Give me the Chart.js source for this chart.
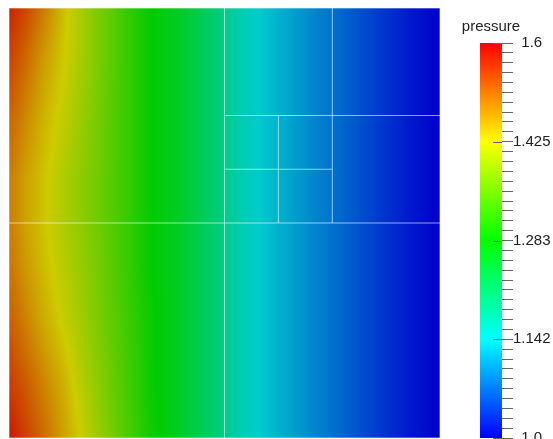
<!DOCTYPE html>
<html>
<head>
<meta charset="utf-8">
<script src="https://cdn.jsdelivr.net/npm/chart.js@4/dist/chart.umd.min.js"></script>
<style>
  html, body { margin: 0; padding: 0; background: #fff; overflow: hidden; width: 553px; height: 439px; }
  #field { position: absolute; left: 0; top: 0; }
  #legendBar { position: absolute; left: 455px; top: 0; }
</style>
</head>
<body>
<canvas id="field" width="455" height="439"></canvas>
<canvas id="legendBar" width="98" height="480"></canvas>
<script>
// Sample positions of the pressure field (unit square, y = 0 at the bottom)
const sampleX = [0, 0.04, 0.08, 0.13, 0.2, 0.27, 0.33, 0.4, 0.47, 0.54, 0.62, 0.7, 0.78, 0.86, 0.93, 1.0];
const sampleY = [0, 0.12, 0.27, 0.4, 0.5, 0.6, 0.74, 0.88, 1.0];

// Pressure along each sample row, bottom to top
const pressureY000 = [1.550, 1.521, 1.493, 1.453, 1.397, 1.340, 1.295, 1.255, 1.210, 1.159, 1.125, 1.096, 1.068, 1.040, 1.017, 1.000];
const pressureY012 = [1.527, 1.504, 1.476, 1.442, 1.385, 1.334, 1.289, 1.255, 1.210, 1.159, 1.125, 1.096, 1.068, 1.040, 1.017, 1.000];
const pressureY027 = [1.504, 1.476, 1.448, 1.419, 1.374, 1.329, 1.289, 1.255, 1.210, 1.159, 1.125, 1.096, 1.068, 1.040, 1.017, 1.000];
const pressureY040 = [1.487, 1.459, 1.436, 1.408, 1.368, 1.323, 1.283, 1.255, 1.210, 1.159, 1.125, 1.096, 1.068, 1.040, 1.017, 1.000];
const pressureY050 = [1.482, 1.453, 1.431, 1.402, 1.363, 1.323, 1.283, 1.255, 1.210, 1.159, 1.125, 1.096, 1.068, 1.040, 1.017, 1.000];
const pressureY060 = [1.482, 1.453, 1.431, 1.402, 1.363, 1.323, 1.283, 1.255, 1.210, 1.159, 1.125, 1.096, 1.068, 1.040, 1.017, 1.000];
const pressureY074 = [1.499, 1.470, 1.442, 1.414, 1.368, 1.323, 1.283, 1.255, 1.210, 1.159, 1.125, 1.096, 1.068, 1.040, 1.017, 1.000];
const pressureY088 = [1.521, 1.493, 1.459, 1.425, 1.374, 1.323, 1.283, 1.255, 1.210, 1.159, 1.125, 1.096, 1.068, 1.040, 1.017, 1.000];
const pressureY100 = [1.544, 1.516, 1.482, 1.431, 1.374, 1.323, 1.283, 1.255, 1.210, 1.159, 1.125, 1.096, 1.068, 1.040, 1.017, 1.000];
const pressureRows = [pressureY000, pressureY012, pressureY027, pressureY040, pressureY050,
                      pressureY060, pressureY074, pressureY088, pressureY100];

// Mesh edges of the adaptively refined quadtree
const edgeX0 = [0, 0.5, 1, 0.75, 0.625, 0, 0, 0, 0.5, 0.5];
const edgeY0 = [0, 0, 0, 0.5, 0.5, 0, 0.5, 1, 0.75, 0.625];
const edgeX1 = [0, 0.5, 1, 0.75, 0.625, 1, 1, 1, 1, 0.75];
const edgeY1 = [1, 1, 1, 1, 0.75, 0, 0.5, 1, 0.75, 0.625];

// Colour legend range and labelled ticks
const pressureMin = 1.0;
const pressureMax = 1.5667;
const legendTickValues = [1.0, 1.1417, 1.2833, 1.425, 1.5667];
const legendTickLabels = ['1.0', '1.142', '1.283', '1.425', '1.6'];
const legendMinorPerMajor = 10;
const legendTitle = 'pressure';

const FONT = "'Liberation Sans', Arial, sans-serif";
const SHADE = 0.8;   // surface lighting factor on the field

// Blue -> cyan -> green -> yellow -> red (HSV hue sweep)
function rainbow(p) {
  let t = (p - pressureMin) / (pressureMax - pressureMin);
  t = Math.max(0, Math.min(1, t));
  const h = (1 - t) * 4; // 0 = red, 4 = blue
  if (h < 1) return [1, h, 0];
  if (h < 2) return [2 - h, 1, 0];
  if (h < 3) return [0, 1, h - 2];
  return [0, 4 - h, 1];
}

function locate(arr, v) {
  let i = 0;
  while (i < arr.length - 2 && v > arr[i + 1]) i++;
  const f = (v - arr[i]) / (arr[i + 1] - arr[i]);
  return [i, Math.max(0, Math.min(1, f))];
}

function pressureAt(x, y) {
  const [i, fx] = locate(sampleX, x);
  const [j, fy] = locate(sampleY, y);
  const a = pressureRows[j], b = pressureRows[j + 1];
  const lo = a[i] + (a[i + 1] - a[i]) * fx;
  const hi = b[i] + (b[i + 1] - b[i]) * fx;
  return lo + (hi - lo) * fy;
}

// Paints the shaded pressure field inside the plot area
const fieldPlugin = {
  id: 'pressureField',
  beforeDatasetsDraw(chart) {
    const { ctx, chartArea: a, scales: { x, y } } = chart;
    const x0 = Math.round(a.left), x1 = Math.round(a.right);
    const y0 = Math.round(a.top), y1 = Math.round(a.bottom);
    const w = x1 - x0, h = y1 - y0;
    const img = ctx.createImageData(w, h);
    for (let j = 0; j < h; j++) {
      const vy = y.getValueForPixel(y0 + j + 0.5);
      for (let i = 0; i < w; i++) {
        const vx = x.getValueForPixel(x0 + i + 0.5);
        const c = rainbow(pressureAt(vx, vy));
        const k = (j * w + i) * 4;
        img.data[k] = Math.round(c[0] * 255 * SHADE);
        img.data[k + 1] = Math.round(c[1] * 255 * SHADE);
        img.data[k + 2] = Math.round(c[2] * 255 * SHADE);
        img.data[k + 3] = 255;
      }
    }
    ctx.putImageData(img, x0, y0);
  }
};

const meshDatasets = edgeX0.map((_, i) => ({
  data: [{ x: edgeX0[i], y: edgeY0[i] }, { x: edgeX1[i], y: edgeY1[i] }],
  showLine: true,
  borderColor: 'rgba(255,255,255,0.6)',
  borderWidth: 1,
  pointRadius: 0,
  clip: false
}));

new Chart(document.getElementById('field'), {
  type: 'scatter',
  data: { datasets: meshDatasets },
  options: {
    responsive: false,
    animation: false,
    events: [],
    layout: { padding: { left: 9, top: 8, right: 15, bottom: 1 } },
    scales: {
      x: { type: 'linear', min: 0, max: 1, display: false },
      y: { type: 'linear', min: 0, max: 1, display: false }
    },
    plugins: { legend: { display: false }, tooltip: { enabled: false } }
  },
  plugins: [fieldPlugin]
});

// Colour legend: gradient bar, long major ticks and its title
const legendPlugin = {
  id: 'legendBar',
  beforeDatasetsDraw(chart) {
    const { ctx, chartArea: a, scales: { y } } = chart;
    const top = Math.round(y.getPixelForValue(pressureMax));
    const bottom = Math.round(y.getPixelForValue(pressureMin));
    for (let py = top; py < bottom; py++) {
      const c = rainbow(y.getValueForPixel(py + 0.5));
      ctx.fillStyle = `rgb(${Math.round(c[0] * 255)},${Math.round(c[1] * 255)},${Math.round(c[2] * 255)})`;
      ctx.fillRect(a.left, py, a.right - a.left, 1);
    }
  },
  afterDraw(chart) {
    const { ctx, chartArea: a, scales: { y } } = chart;
    ctx.save();
    ctx.strokeStyle = '#666';
    ctx.lineWidth = 1;
    legendTickValues.forEach(v => {
      const py = Math.round(y.getPixelForValue(v)) + 0.5;
      ctx.beginPath();
      ctx.moveTo(a.right - 9, py);
      ctx.lineTo(a.right, py);
      ctx.stroke();
    });
    ctx.fillStyle = '#222';
    ctx.font = `15px ${FONT}`;
    ctx.textAlign = 'center';
    ctx.textBaseline = 'alphabetic';
    ctx.fillText(legendTitle, (a.left + a.right) / 2, a.top - 12.5);
    ctx.restore();
  }
};

new Chart(document.getElementById('legendBar'), {
  type: 'scatter',
  data: { datasets: [] },
  options: {
    responsive: false,
    animation: false,
    events: [],
    layout: { padding: { left: 25, top: 43, right: 0, bottom: 42 } },
    scales: {
      x: { type: 'linear', min: 0, max: 1, display: false },
      y: {
        type: 'linear',
        position: 'right',
        min: pressureMin,
        max: pressureMax,
        afterBuildTicks(scale) {
          const ticks = [];
          const n = (legendTickValues.length - 1) * legendMinorPerMajor;
          for (let i = 0; i <= n; i++) {
            ticks.push({ value: pressureMin + (pressureMax - pressureMin) * i / n });
          }
          scale.ticks = ticks;
        },
        afterFit(scale) { scale.width = 51; },
        border: { display: false },
        grid: { drawOnChartArea: false, drawTicks: true, tickLength: 11, color: '#666', lineWidth: 1 },
        ticks: {
          autoSkip: false,
          padding: 0,
          crossAlign: 'center',
          color: '#222',
          font: { family: FONT, size: 15 },
          callback(value, index) {
            return index % legendMinorPerMajor === 0 ? legendTickLabels[index / legendMinorPerMajor] : '';
          }
        }
      }
    },
    plugins: { legend: { display: false }, tooltip: { enabled: false } }
  },
  plugins: [legendPlugin]
});
</script>
</body>
</html>
